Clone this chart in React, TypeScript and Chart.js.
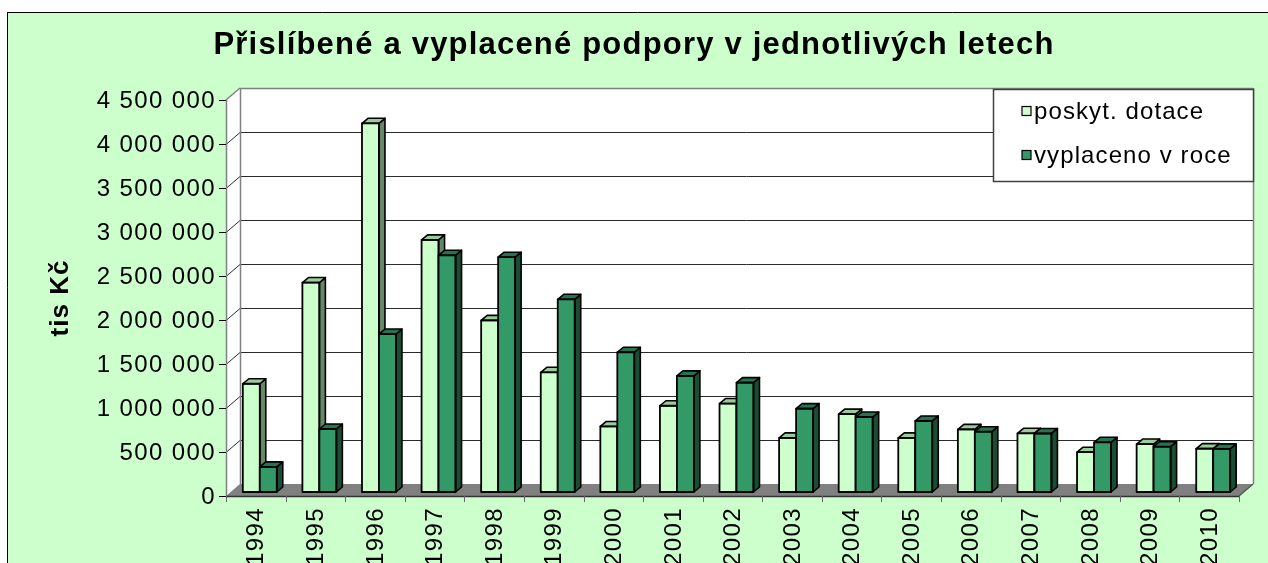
import { useEffect, useRef } from "react";
import { Chart, registerables } from "chart.js";

Chart.register(...registerables);

const W = 1268;
const H = 563;

const years = ["1994", "1995", "1996", "1997", "1998", "1999", "2000", "2001", "2002", "2003", "2004", "2005", "2006", "2007", "2008", "2009", "2010"];
const poskytDotace = [1230000, 2380000, 4190000, 2865000, 1950000, 1360000, 745000, 980000, 1005000, 615000, 885000, 615000, 712000, 667000, 452000, 545000, 493000];
const vyplacenoVRoce = [285000, 716000, 1795000, 2690000, 2668000, 2190000, 1588000, 1320000, 1243000, 948000, 852000, 807000, 685000, 665000, 565000, 515000, 490000];
const yMax = 4500000;
const yStep = 500000;

const titleText = "Přislíbené a vyplacené podpory v jednotlivých letech";
const yAxisTitle = "tis Kč";
const seriesNames = ["poskyt. dotace", "vyplaceno v roce"];

const FONT = '"Liberation Sans", Arial, sans-serif';
const LIGHT = "#CCFFCC";
const LIGHT_TOP = "#99CC99";
const LIGHT_SIDE = "#668866";
const DARK = "#339966";
const DARK_TOP = "#267350";
const DARK_SIDE = "#1A4D33";
const faces = [
  { front: LIGHT, top: LIGHT_TOP, side: LIGHT_SIDE },
  { front: DARK, top: DARK_TOP, side: DARK_SIDE },
];

// depth offsets relative to the bar plane
const FX = -4, FY = 4; // front plane
const BX = 10, BY = -8; // back wall
const DX = 6, DY = -5; // bar depth

function fmt(v: number) {
  return String(v).replace(/\B(?=(\d{3})+(?!\d))/g, " ");
}

function poly(ctx: CanvasRenderingContext2D, pts: number[][], fill?: string, stroke?: string, lw = 1) {
  ctx.beginPath();
  ctx.moveTo(pts[0][0], pts[0][1]);
  for (let i = 1; i < pts.length; i++) ctx.lineTo(pts[i][0], pts[i][1]);
  ctx.closePath();
  if (fill) {
    ctx.fillStyle = fill;
    ctx.fill();
  }
  if (stroke) {
    ctx.strokeStyle = stroke;
    ctx.lineWidth = lw;
    ctx.stroke();
  }
}

function line(ctx: CanvasRenderingContext2D, x1: number, y1: number, x2: number, y2: number, color: string, lw = 1) {
  ctx.beginPath();
  ctx.moveTo(x1, y1);
  ctx.lineTo(x2, y2);
  ctx.strokeStyle = color;
  ctx.lineWidth = lw;
  ctx.stroke();
}

const excel3d = {
  id: "excel3d",
  beforeDraw(chart: any) {
    const { ctx, chartArea: ca, scales } = chart;
    const y = scales.y;
    const L = ca.left;
    const R = ca.right;
    const y0 = y.getPixelForValue(0);
    const yT = y.getPixelForValue(yMax);
    ctx.save();
    ctx.fillStyle = "#FFFFFF";
    ctx.fillRect(0, 0, W, H);
    ctx.fillStyle = "#CCFFCC";
    ctx.fillRect(7, 12, W - 7, H - 12);
    line(ctx, 7, 12.5, W, 12.5, "#000");
    line(ctx, 7.5, 12, 7.5, H, "#000");

    // back wall
    ctx.fillStyle = "#FFFFFF";
    ctx.fillRect(L + BX, yT + BY, R - L, y0 - yT);
    // left wall
    poly(ctx, [[L + FX, yT + FY], [L + BX, yT + BY], [L + BX, y0 + BY], [L + FX, y0 + FY]], "#FFFFFF");
    // floor
    poly(ctx, [[L + FX, y0 + FY], [R + FX, y0 + FY], [R + BX, y0 + BY], [L + BX, y0 + BY]], "#808080");

    // gridlines
    for (let v = yStep; v < yMax; v += yStep) {
      const p = Math.round(y.getPixelForValue(v));
      line(ctx, L + BX, p + BY + 0.5, R + BX, p + BY + 0.5, "#2a2a2a");
      line(ctx, L + FX, p + FY + 0.5, L + BX, p + BY + 0.5, "#2a2a2a");
    }
    // wall edges
    const g = "#808080";
    line(ctx, L + BX, Math.round(yT + BY) + 0.5, R + BX, Math.round(yT + BY) + 0.5, g, 1.5);
    line(ctx, L + FX, yT + FY, L + BX, yT + BY, g, 1.5);
    line(ctx, Math.round(L + BX) + 0.5, yT + BY, Math.round(L + BX) + 0.5, y0 + BY, g, 1.5);
    line(ctx, Math.round(R + BX) + 0.5, yT + BY, Math.round(R + BX) + 0.5, y0 + BY, g, 1.5);
    line(ctx, Math.round(L + FX) + 0.5, yT + FY, Math.round(L + FX) + 0.5, y0 + FY, g, 1.5);
    // floor edges
    line(ctx, L + FX, Math.round(y0 + FY) + 0.5, R + FX, Math.round(y0 + FY) + 0.5, "#333", 1.5);
    line(ctx, R + FX, y0 + FY, R + BX, y0 + BY, "#555", 1.5);
    ctx.restore();
  },
  afterDatasetsDraw(chart: any) {
    const { ctx } = chart;
    const metas = [chart.getDatasetMeta(0), chart.getDatasetMeta(1)];
    const n = years.length;
    ctx.save();
    ctx.lineJoin = "round";
    for (let i = 0; i < n; i++) {
      for (let d = 0; d < 2; d++) {
        const el = metas[d].data[i];
        if (!el) continue;
        const f = faces[d];
        const { x, y, base, width } = el.getProps(["x", "y", "base", "width"], true);
        const x0 = x - width / 2;
        const x1 = x + width / 2;
        // front
        ctx.fillStyle = f.front;
        ctx.fillRect(x0, y, width, base - y);
        // side
        poly(ctx, [[x1, y], [x1 + DX, y + DY], [x1 + DX, base + DY], [x1, base]], f.side, "#000", 1.6);
        // top
        poly(ctx, [[x0, y], [x1, y], [x1 + DX, y + DY], [x0 + DX, y + DY]], f.top, "#000", 1.6);
        // front outline
        ctx.strokeStyle = "#000";
        ctx.lineWidth = 1.8;
        ctx.strokeRect(x0, y, width, base - y);
      }
    }
    ctx.restore();
  },
  afterDraw(chart: any) {
    const { ctx, chartArea: ca, scales } = chart;
    const y = scales.y;
    const x = scales.x;
    const L = ca.left;
    const R = ca.right;
    const y0 = y.getPixelForValue(0);
    ctx.save();
    ctx.fillStyle = "#000";

    // title
    ctx.font = `bold 31px ${FONT}`;
    (ctx as any).letterSpacing = "1.2px";
    ctx.textAlign = "center";
    ctx.textBaseline = "alphabetic";
    ctx.fillText(titleText, 634, 54);

    // y tick labels + ticks
    ctx.font = `24px ${FONT}`;
    (ctx as any).letterSpacing = "1.4px";
    ctx.textAlign = "right";
    ctx.textBaseline = "middle";
    for (const t of y.ticks) {
      const p = y.getPixelForValue(t.value) + FY;
      ctx.fillStyle = "#000";
      ctx.fillText(fmt(t.value), 216, p + 1);
      line(ctx, 219, Math.round(p) + 0.5, L + FX, Math.round(p) + 0.5, "#000");
    }

    // x labels + ticks
    const n = years.length;
    const step = (R - L) / n;
    for (let i = 0; i <= n; i++) {
      const xx = Math.round(L + FX + i * step) + 0.5;
      line(ctx, xx, y0 + FY, xx, y0 + FY + 6, "#666");
    }
    ctx.font = `24px ${FONT}`;
    (ctx as any).letterSpacing = "1.4px";
    for (let i = 0; i < n; i++) {
      const xc = x.getPixelForValue(i) + FX;
      ctx.save();
      ctx.translate(xc + 1, y0 + FY + 11);
      ctx.rotate(-Math.PI / 2);
      ctx.textAlign = "right";
      ctx.textBaseline = "middle";
      ctx.fillStyle = "#000";
      ctx.fillText(years[i], 0, 0);
      ctx.restore();
    }

    // y axis title
    ctx.save();
    ctx.translate(61, 298);
    ctx.rotate(-Math.PI / 2);
    ctx.font = `bold 26px ${FONT}`;
    (ctx as any).letterSpacing = "1px";
    ctx.textAlign = "center";
    ctx.textBaseline = "middle";
    ctx.fillStyle = "#000";
    ctx.fillText(yAxisTitle, 0, 0);
    ctx.restore();

    // legend
    const lx = 993, ly = 89, lw = 260, lh = 92;
    ctx.fillStyle = "#FFFFFF";
    ctx.fillRect(lx, ly, lw, lh);
    ctx.strokeStyle = "#404040";
    ctx.lineWidth = 1.5;
    ctx.strokeRect(lx + 0.5, ly + 0.5, lw, lh);
    const colors = [LIGHT, DARK];
    ctx.font = `24px ${FONT}`;
    (ctx as any).letterSpacing = "1.1px";
    ctx.textAlign = "left";
    ctx.textBaseline = "middle";
    for (let i = 0; i < 2; i++) {
      const cy = 111 + i * 44;
      ctx.fillStyle = colors[i];
      ctx.fillRect(1022, cy - 4.5, 9, 9);
      ctx.strokeStyle = "#000";
      ctx.lineWidth = 1.2;
      ctx.strokeRect(1022, cy - 4.5, 9, 9);
      ctx.fillStyle = "#000";
      ctx.fillText(seriesNames[i], 1034, cy + 1);
    }
    ctx.restore();
  },
};

export default function App() {
  const ref = useRef<HTMLCanvasElement | null>(null);
  useEffect(() => {
    document.body.style.margin = "0";
    const canvas = ref.current;
    if (!canvas) return;
    const chart = new Chart(canvas, {
      type: "bar",
      data: {
        labels: years,
        datasets: [
          { label: seriesNames[0], data: poskytDotace, backgroundColor: "rgba(0,0,0,0)", borderWidth: 0 },
          { label: seriesNames[1], data: vyplacenoVRoce, backgroundColor: "rgba(0,0,0,0)", borderWidth: 0 },
        ],
      },
      options: {
        responsive: false,
        animation: false,
        devicePixelRatio: 1,
        layout: { padding: { left: 230, right: 25, top: 96, bottom: 71 } },
        datasets: { bar: { categoryPercentage: 0.57, barPercentage: 1.0 } },
        plugins: { legend: { display: false }, title: { display: false }, tooltip: { enabled: false } },
        scales: {
          x: { display: false, offset: true },
          y: { display: false, min: 0, max: yMax, ticks: { stepSize: yStep } },
        },
      },
      plugins: [excel3d],
    });
    return () => chart.destroy();
  }, []);
  return (
    <div style={{ position: "fixed", left: 0, top: 0, width: W, height: H }}>
      <canvas ref={ref} width={W} height={H} style={{ display: "block" }} />
    </div>
  );
}
